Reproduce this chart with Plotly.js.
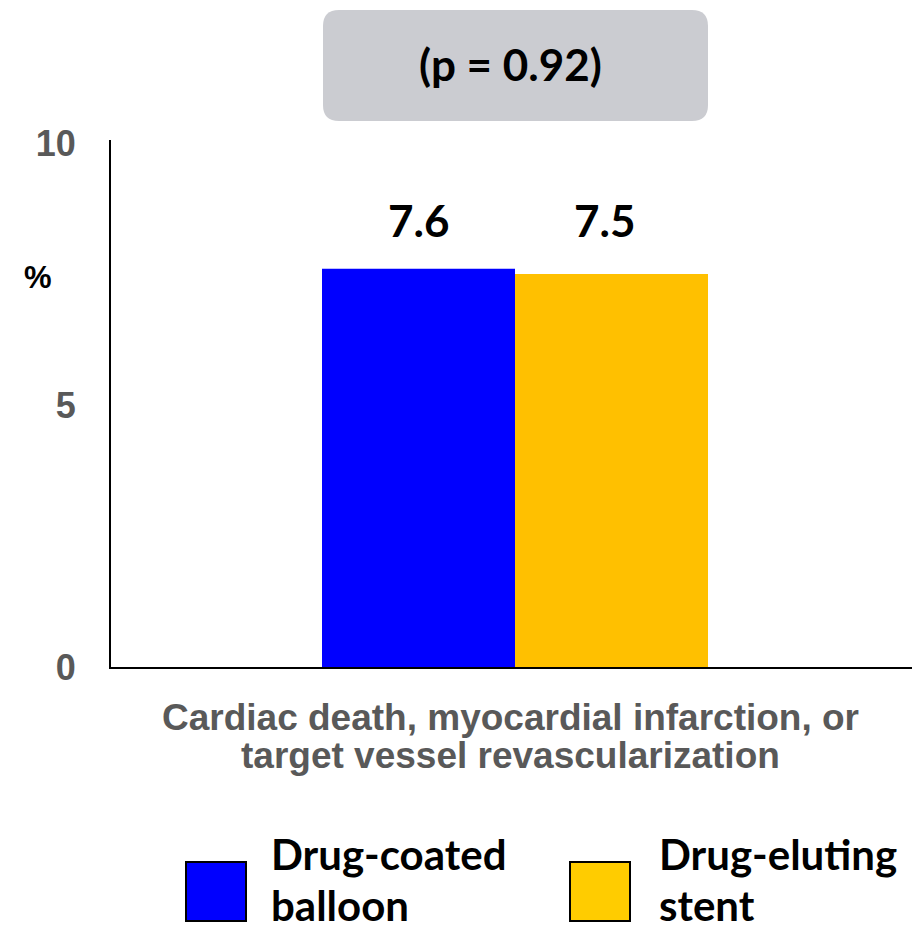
<!DOCTYPE html>
<html>
<head>
<meta charset="utf-8">
<script src="https://cdn.plot.ly/plotly-3.0.1.min.js"></script>
<style>html,body{margin:0;padding:0;background:#fff;}#chart{width:912px;height:931px;}</style>
</head>
<body>
<div id="chart"></div>
<script>
// ---- data ----
const groups = ['Drug-coated balloon', 'Drug-eluting stent'];
const legendLines = [['Drug-coated', 'balloon'], ['Drug-eluting', 'stent']];
const values = [7.6, 7.5];
const valueLabels = ['7.6', '7.5'];
const barColors = ['#0000FF', '#FFC000'];
const legendColors = ['#0000FF', '#FFCC00'];
const categoryLines = ['Cardiac death, myocardial infarction, or', 'target vessel revascularization'];
const pText = '(p = 0.92)';
const yTicks = [0, 5, 10];

// ---- layout geometry (pixels) ----
const W = 912, H = 931;
const L = 111, R = 0, T = 140, B = 264;
const PW = W - L - R, PH = H - T - B;
const px = x => (x - L) / PW;
const py = y => (H - B - y) / PH;

function roundRect(x0, y0, x1, y1, r) {
  const X = v => px(v).toFixed(5), Y = v => py(v).toFixed(5);
  return 'M' + X(x0 + r) + ',' + Y(y0) +
    ' L' + X(x1 - r) + ',' + Y(y0) +
    ' Q' + X(x1) + ',' + Y(y0) + ' ' + X(x1) + ',' + Y(y0 + r) +
    ' L' + X(x1) + ',' + Y(y1 - r) +
    ' Q' + X(x1) + ',' + Y(y1) + ' ' + X(x1 - r) + ',' + Y(y1) +
    ' L' + X(x0 + r) + ',' + Y(y1) +
    ' Q' + X(x0) + ',' + Y(y1) + ' ' + X(x0) + ',' + Y(y1 - r) +
    ' L' + X(x0) + ',' + Y(y0 + r) +
    ' Q' + X(x0) + ',' + Y(y0) + ' ' + X(x0 + r) + ',' + Y(y0) + ' Z';
}

const xs = groups.map((g, i) => i);

const trace = {
  type: 'bar',
  x: xs,
  y: values,
  width: 1,
  marker: { color: barColors, line: { width: 0 } },
  hovertext: groups,
  showlegend: false
};

const annotations = [];
const labelXShift = [0, -7];
values.forEach((v, i) => {
  annotations.push({
    x: xs[i], y: py(220), xref: 'x', yref: 'paper',
    text: valueLabels[i], showarrow: false, xshift: labelXShift[i],
    yanchor: 'middle',
    font: { family: 'Lato, sans-serif', size: 44, color: '#000', weight: 'bold' }
  });
});
const catY = [717, 755];
categoryLines.forEach((t, i) => {
  annotations.push({
    x: px(510), y: py(catY[i]), xref: 'paper', yref: 'paper',
    text: t, showarrow: false, xanchor: 'center', yanchor: 'middle',
    font: { family: 'Liberation Sans, Arial, sans-serif', size: 37, color: '#595959', weight: 'bold' }
  });
});
annotations.push({
  x: px(510), y: py(64), xref: 'paper', yref: 'paper',
  text: pText, showarrow: false, xanchor: 'center', yanchor: 'middle',
  font: { family: 'Lato, sans-serif', size: 44, color: '#000', weight: 'bold' }
});
annotations.push({
  x: px(38), y: py(277), xref: 'paper', yref: 'paper',
  text: '%', showarrow: false, xanchor: 'center', yanchor: 'middle',
  font: { family: 'Liberation Sans, Arial, sans-serif', size: 31, color: '#000', weight: 'bold' }
});

const shapes = [{
  type: 'path', xref: 'paper', yref: 'paper',
  path: roundRect(323, 10, 708, 121, 16),
  fillcolor: '#CBCCD1', line: { width: 0 }, layer: 'below'
}];

const legendBoxX = [186, 570];
const legendTextX = [270, 658];
const legendLineY = [854, 905];
legendLines.forEach((lines, i) => {
  shapes.push({
    type: 'rect', xref: 'paper', yref: 'paper',
    x0: px(legendBoxX[i]), x1: px(legendBoxX[i] + 60),
    y0: py(921), y1: py(862),
    fillcolor: legendColors[i], line: { color: '#000', width: 2 }
  });
  lines.forEach((t, j) => {
    annotations.push({
      x: px(legendTextX[i]), y: py(legendLineY[j]), xref: 'paper', yref: 'paper',
      text: t, showarrow: false, xanchor: 'left', yanchor: 'middle', align: 'left',
      borderpad: 0,
      font: { family: 'Lato, sans-serif', size: 42, color: '#000', weight: 'bold' }
    });
  });
});

// x range: bars are 193px wide; blue bar's left edge at 322px
const unit = 193;
const xr0 = -0.5 - (322 - L) / unit;
const xr1 = xr0 + PW / unit;
const yTopVal = (H - B - T) / 52.4;

const layout = {
  width: W, height: H,
  margin: { l: L, r: R, t: T, b: B, pad: 0 },
  paper_bgcolor: '#fff', plot_bgcolor: '#fff',
  showlegend: false,
  xaxis: {
    range: [xr0, xr1], showticklabels: false, showgrid: false, zeroline: false,
    showline: true, linecolor: '#000', linewidth: 2, ticks: '', fixedrange: true
  },
  yaxis: {
    range: [0, yTopVal], tickvals: yTicks, ticktext: yTicks.map(String),
    showgrid: false, zeroline: false, showline: true, linecolor: '#000', linewidth: 2,
    ticks: '', ticklabelstandoff: 26,
    tickfont: { family: 'Liberation Sans, Arial, sans-serif', size: 36, color: '#595959', weight: 'bold' }
  },
  shapes: shapes,
  annotations: annotations
};

Plotly.newPlot('chart', [trace], layout, { staticPlot: true, displayModeBar: false });
</script>
</body>
</html>
